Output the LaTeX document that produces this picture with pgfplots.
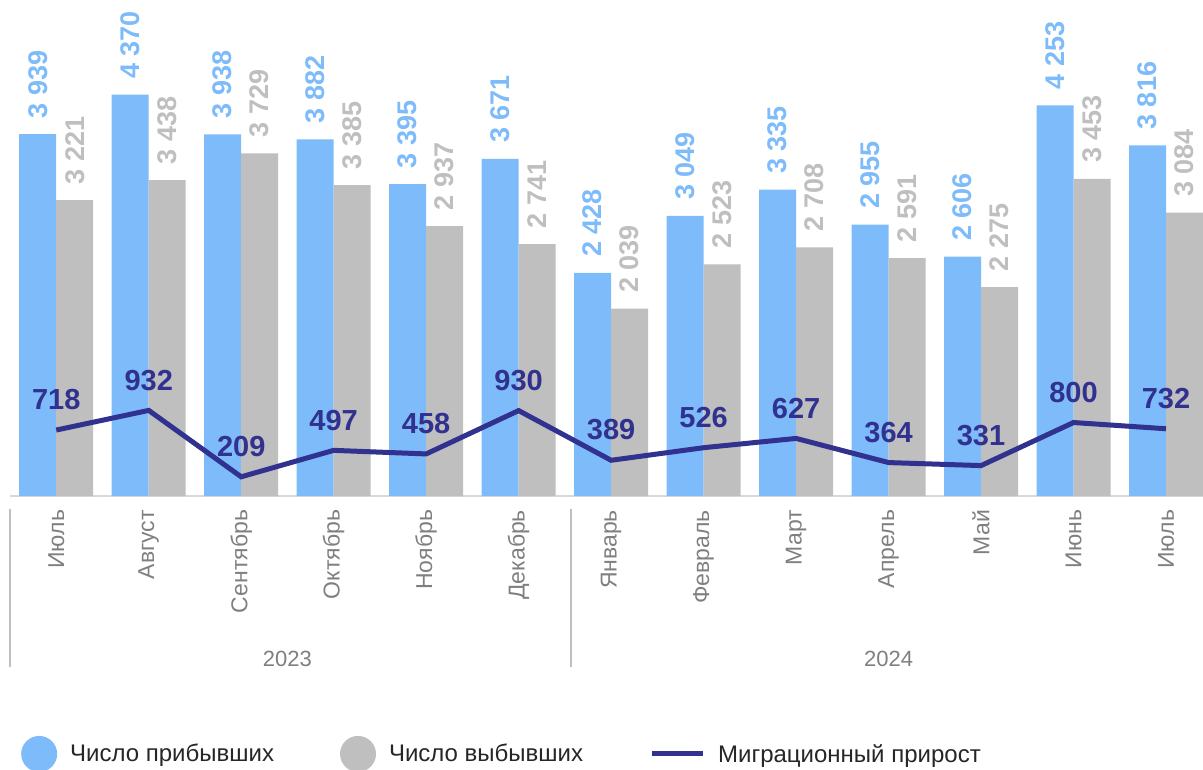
\documentclass[border=0pt]{standalone}
\usepackage{graphicx}
\usepackage{pgfplots}
\pgfplotsset{compat=1.18}
\usepackage{fontspec}
\setmainfont{Liberation Sans}

\definecolor{cArrived}{HTML}{7DBBFA}
\definecolor{cLeft}{HTML}{BFBFBF}
\definecolor{cGrowth}{HTML}{31318F}
\definecolor{cTick}{HTML}{7F7F7F}
\definecolor{cLegend}{HTML}{262626}
\definecolor{cBase}{HTML}{D9D9D9}

\begin{document}
\begin{tikzpicture}
\useasboundingbox (-10pt,-273pt) rectangle (1193pt,496pt);
\begin{axis}[
    width=1193pt, height=496pt, scale only axis,
    xmin=-0.5, xmax=12.4, ymin=0, ymax=5400,
    clip=false,
    axis x line*=bottom, axis y line=none,
    x axis line style={-, draw=cBase, line width=2pt},
    ytick=\empty,
    xtick={0,...,12},
    xticklabels={Июль,Август,Сентябрь,Октябрь,Ноябрь,Декабрь,Январь,Февраль,Март,Апрель,Май,Июнь,Июль},
    major tick length=0pt,
    xticklabel style={rotate=90, anchor=east, inner sep=0pt, outer xsep=14pt,
      font=\fontsize{23}{27}\selectfont, text=cTick},
    /pgf/number format/fixed,
    /pgf/number format/precision=0,
    /pgf/number format/1000 sep={\ },
    /pgf/number format/assume math mode=true,
    legend columns=3,
    legend style={at={(0.0092,-0.52)}, anchor=west, draw=none, fill=none,
      inner sep=0pt, font=\fontsize{24}{28}\selectfont, text=cLegend,
      nodes={inner sep=0pt},
      /tikz/every odd column/.append style={column sep=13pt},
      /tikz/every even column/.append style={column sep=66pt},
      /tikz/column 4/.append style={column sep=61pt}},
  ]
  % Число прибывших
  \addplot[ybar, bar width=0.4, bar shift=-0.2, fill=cArrived, draw=none,
    legend image code/.code={\fill[cArrived] (18pt,0pt) circle (18pt);},
    nodes near coords={\rotatebox{90}{\pgfmathprintnumber\pgfplotspointmeta}},
    every node near coord/.append style={anchor=south, inner sep=0pt, xshift=-18.5pt,
      outer ysep=16pt, font=\fontsize{27}{31}\selectfont\bfseries, text=cArrived}]
  coordinates {(0,3939) (1,4370) (2,3938) (3,3882) (4,3395) (5,3671) (6,2428)
    (7,3049) (8,3335) (9,2955) (10,2606) (11,4253) (12,3816)};
  \addlegendentry{Число прибывших}
  % Число выбывших
  \addplot[ybar, bar width=0.4, bar shift=0.2, fill=cLeft, draw=none,
    legend image code/.code={\fill[cLeft] (18pt,0pt) circle (18pt);},
    nodes near coords={\rotatebox{90}{\pgfmathprintnumber\pgfplotspointmeta}},
    every node near coord/.append style={anchor=south, inner sep=0pt, xshift=18.5pt,
      outer ysep=16pt, font=\fontsize{27}{31}\selectfont\bfseries, text=cLeft}]
  coordinates {(0,3221) (1,3438) (2,3729) (3,3385) (4,2937) (5,2741) (6,2039)
    (7,2523) (8,2708) (9,2591) (10,2275) (11,3453) (12,3084)};
  \addlegendentry{Число выбывших}
  % Миграционный прирост
  \addplot[sharp plot, draw=cGrowth, line width=5pt, no markers,
    legend image code/.code={\draw[cGrowth, line width=5pt] (0pt,0pt) -- (51pt,0pt);},
    nodes near coords,
    every node near coord/.append style={anchor=south, inner sep=0pt,
      outer ysep=20pt, font=\fontsize{29}{33}\selectfont\bfseries, text=cGrowth}]
  coordinates {(0,718) (1,932) (2,209) (3,497) (4,458) (5,930) (6,389)
    (7,526) (8,627) (9,364) (10,331) (11,800) (12,732)};
  \addlegendentry{Миграционный прирост}

  % year groups
  \draw[cLeft, line width=2pt] ([yshift=-13pt]axis cs:-0.5,0) -- ([yshift=-171pt]axis cs:-0.5,0);
  \draw[cLeft, line width=2pt] ([yshift=-13pt]axis cs:5.568,0) -- ([yshift=-171pt]axis cs:5.568,0);
  \node[font=\fontsize{22}{26}\selectfont, text=cTick] at ([yshift=-163pt]axis cs:2.5,0) {2023};
  \node[font=\fontsize{22}{26}\selectfont, text=cTick] at ([yshift=-163pt]axis cs:9,0) {2024};
\end{axis}
\end{tikzpicture}
\end{document}
